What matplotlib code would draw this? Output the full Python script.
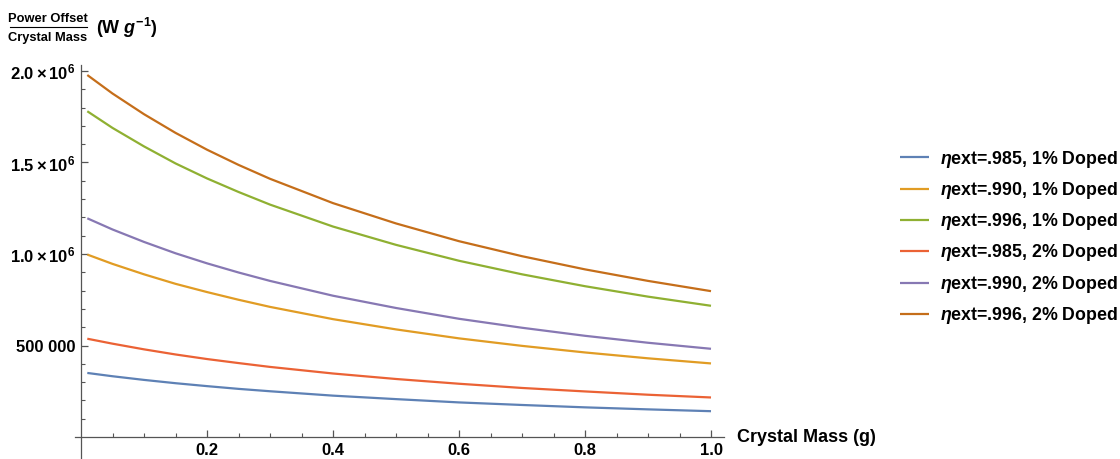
import matplotlib
matplotlib.use("Agg")
import matplotlib.pyplot as plt
from matplotlib.lines import Line2D

plt.rcParams['font.family'] = ['Liberation Sans', 'DejaVu Sans']
plt.rcParams['font.weight'] = 'bold'
plt.rcParams['mathtext.fontset'] = 'custom'
plt.rcParams['mathtext.rm'] = 'Liberation Sans:bold'
plt.rcParams['mathtext.bf'] = 'Liberation Sans:bold'
plt.rcParams['mathtext.it'] = 'Liberation Sans:italic'

# ---- data ----
mass = [0.01, 0.05, 0.1, 0.15, 0.2, 0.25, 0.3, 0.4, 0.5, 0.6, 0.7, 0.8, 0.9, 1.0]
s985_1 = [350e3, 332e3, 312e3, 294e3, 278e3, 263e3, 250e3, 226e3, 207e3, 189e3, 175e3, 162e3, 151e3, 141e3]
s990_1 = [997e3, 946e3, 889e3, 837e3, 792e3, 750e3, 711e3, 644e3, 588e3, 539e3, 498e3, 462e3, 430e3, 402e3]
s996_1 = [1780e3, 1689e3, 1588e3, 1495e3, 1413e3, 1339e3, 1270e3, 1150e3, 1050e3, 963e3, 889e3, 824e3, 767e3, 717e3]
s985_2 = [537e3, 510e3, 479e3, 451e3, 426e3, 404e3, 383e3, 347e3, 317e3, 291e3, 268e3, 249e3, 231e3, 216e3]
s990_2 = [1195e3, 1134e3, 1066e3, 1004e3, 949e3, 899e3, 853e3, 772e3, 705e3, 646e3, 597e3, 553e3, 515e3, 482e3]
s996_2 = [1978e3, 1877e3, 1764e3, 1662e3, 1570e3, 1487e3, 1411e3, 1278e3, 1167e3, 1070e3, 988e3, 916e3, 853e3, 797e3]
series = [s985_1, s990_1, s996_1, s985_2, s990_2, s996_2]
labels = [r"$\mathit{\eta}$ext=.985, 1% Doped",
          r"$\mathit{\eta}$ext=.990, 1% Doped",
          r"$\mathit{\eta}$ext=.996, 1% Doped",
          r"$\mathit{\eta}$ext=.985, 2% Doped",
          r"$\mathit{\eta}$ext=.990, 2% Doped",
          r"$\mathit{\eta}$ext=.996, 2% Doped"]
colors = ['#5E81B5', '#E19C24', '#8FB032', '#EB6235', '#8778B3', '#C56E1A']

xticks = [0.2, 0.4, 0.6, 0.8, 1.0]
xticklabels = ['0.2', '0.4', '0.6', '0.8', '1.0']
yticks = [500e3, 1.0e6, 1.5e6, 2.0e6]
yticklabels = ['500 000', r'$1.0\times10^{6}$', r'$1.5\times10^{6}$', r'$2.0\times10^{6}$']

W, H = 1120, 459
fig = plt.figure(figsize=(W / 100, H / 100), dpi=100)

# axes geometry in pixels
x_zero_px, px_per_x = 81, 630.0
y_zero_px, px_per_y = 437, 183.0 / 1e6
left_px, right_px, top_px, bot_px = 75, 724, 65, 459
ax = fig.add_axes([left_px / W, 1 - bot_px / H, (right_px - left_px) / W, (bot_px - top_px) / H])
ax.set_xlim((left_px - x_zero_px) / px_per_x, (right_px - x_zero_px) / px_per_x)
ax.set_ylim(-(bot_px - y_zero_px) / px_per_y, (y_zero_px - top_px) / px_per_y)
ax.patch.set_alpha(0)

for ys, lab, c in zip(series, labels, colors):
    ax.plot(mass, ys, color=c, lw=1.6, label=lab, solid_capstyle='butt', solid_joinstyle='round')

for s in ['top', 'right']:
    ax.spines[s].set_visible(False)
ax.spines['left'].set_position(('data', 0))
ax.spines['bottom'].set_position(('data', 0))
for s in ['left', 'bottom']:
    ax.spines[s].set_color('#555555')
    ax.spines[s].set_linewidth(0.9)

ax.set_xticks(xticks)
ax.set_xticklabels(xticklabels)
ax.set_xticks([v / 100 for v in range(5, 100, 5) if v % 20 != 0], minor=True)
ax.set_yticks(yticks)
ax.set_yticklabels(yticklabels)
ax.set_yticks([v * 1e5 for v in range(1, 20) if v % 5 != 0], minor=True)
ax.tick_params(which='major', direction='in', length=5, width=0.9, color='#555555',
               labelsize=12, pad=4)
ax.tick_params(which='minor', direction='in', length=3, width=0.8, color='#555555')
for t in ax.get_xticklabels() + ax.get_yticklabels():
    t.set_fontweight('bold')

# x-axis label at the right end of the axis
fig.text(737 / W, 1 - 438 / H, 'Crystal Mass (g)', fontsize=13, fontweight='bold',
         ha='left', va='center')

# y-axis label: fraction + units
fig.text(48 / W, 1 - 19 / H, 'Power Offset', fontsize=9.3, fontweight='bold',
         ha='center', va='center')
fig.text(48 / W, 1 - 38 / H, 'Crystal Mass', fontsize=9.3, fontweight='bold',
         ha='center', va='center')
fig.add_artist(Line2D([10 / W, 87 / W], [1 - 27 / H, 1 - 27 / H], color='black', lw=0.8))
fig.text(96 / W, 1 - 28 / H, r'(W $\mathit{g}^{-1}$)', fontsize=13, fontweight='bold',
         ha='left', va='center')

leg = ax.legend(loc='upper left', bbox_to_anchor=(900 / W, 1 - 148.5 / H),
                bbox_transform=fig.transFigure, frameon=False, fontsize=12.8,
                handlelength=1.63, handletextpad=0.62, labelspacing=0.58,
                borderaxespad=0, borderpad=0)
for t in leg.get_texts():
    t.set_fontweight('bold')

fig.savefig('out.png', dpi=100)
